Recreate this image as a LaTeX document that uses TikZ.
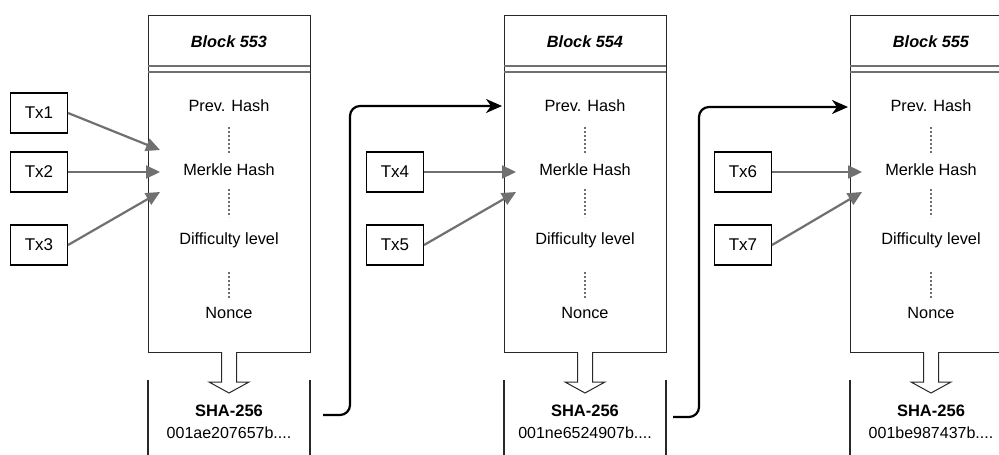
\documentclass[tikz,border=0pt]{standalone}
\usepackage{fontspec}
\setmainfont{Liberation Sans}
\usetikzlibrary{arrows.meta}
\definecolor{agray}{RGB}{112,112,112}
\definecolor{bline}{RGB}{40,40,40}
\definecolor{dgray}{RGB}{110,110,110}
\begin{document}
\begin{tikzpicture}[x=1pt,y=-1pt,
  blockbox/.style={draw=bline, line width=1.2pt, fill=white, minimum width=162pt, minimum height=337pt, inner sep=0pt, anchor=north west},
  txbox/.style={draw=black, line width=1.1pt, minimum width=57pt, minimum height=40pt, inner sep=0pt, font=\fontsize{17}{19}\selectfont},
  field/.style={font=\fontsize{16.3}{18}\selectfont, inner sep=0pt},
  titletext/.style={font=\fontsize{16.3}{18}\selectfont\bfseries\itshape, inner sep=0pt},
  shatext/.style={font=\fontsize{16.5}{18}\selectfont\bfseries, inner sep=0pt},
  hashtext/.style={font=\fontsize{16}{18}\selectfont, inner sep=0pt},
  txarrow/.style={draw=agray, line width=2.2pt, -{Triangle[length=14pt,width=13pt]}},
  chain/.style={draw=black, line width=2.2pt, rounded corners=10pt, -{Stealth[length=16pt,width=14pt,inset=5pt]}},
  dots/.style={draw=dgray, line width=1.5pt, dash pattern=on 2pt off 2pt},
  dbl/.style={draw=agray, line width=2pt},
  shaside/.style={draw=bline, line width=1.2pt},
  hollow/.style={draw=bline, line width=1pt, fill=white},
]
\useasboundingbox (0,0) rectangle (999,455);
\clip (0,0) rectangle (999,455);
\fill[white] (0,0) rectangle (999,455);

\foreach \i/\x/\n/\h in {1/148/553/001ae207657b, 2/504/554/001ne6524907b, 3/850/555/001be987437b}{
  \pgfmathsetmacro{\cx}{\x+81}
  \pgfmathsetmacro{\rx}{\x+162}
  \node[blockbox] (b\i) at (\x,15) {};
  \node[titletext] (t\i) at (\cx,42) {Block \n};
  \draw[dbl] (\x,66) -- (\rx,66);
  \draw[dbl] (\x,72) -- (\rx,72);
  \node[field] (p\i) at (\cx,106) {Prev. Hash};
  \node[field] (m\i) at (\cx,170) {Merkle Hash};
  \node[field] (d\i) at (\cx,240) {Difficulty level};
  \node[field] (n\i) at (\cx,313) {Nonce};
  \draw[dots] (\cx,127) -- (\cx,153);
  \draw[dots] (\cx,189) -- (\cx,217);
  \draw[dots] (\cx,272) -- (\cx,298);
  \draw[hollow] (\cx-7.5,352) -- (\cx-7.5,382) -- (\cx-20,382) -- (\cx,393) -- (\cx+20,382) -- (\cx+7.5,382) -- (\cx+7.5,352);
  \draw[shaside] (\x,380) -- (\x,460);
  \draw[shaside] (\rx,380) -- (\rx,460);
  \node[shatext] (s\i) at (\cx,411) {SHA-256};
  \node[hashtext] (h\i) at (\cx,433) {\h....};
}

% transactions
\node[txbox] (tx1) at (39,113) {Tx1};
\node[txbox] (tx2) at (39,172) {Tx2};
\node[txbox] (tx3) at (39,245) {Tx3};
\node[txbox] (tx4) at (395,172) {Tx4};
\node[txbox] (tx5) at (395,245) {Tx5};
\node[txbox] (tx6) at (743,172) {Tx6};
\node[txbox] (tx7) at (743,245) {Tx7};

\coordinate (a1) at (160,150);
\coordinate (a2) at (160,172);
\coordinate (a3) at (160,192);
\coordinate (a4) at (516,172);
\coordinate (a5) at (516,192);
\coordinate (a6) at (862,172);
\coordinate (a7) at (862,192);

\draw[txarrow] (tx1.east) -- (a1);
\draw[txarrow] (tx2.east) -- (a2);
\draw[txarrow] (tx3.east) -- (a3);
\draw[txarrow] (tx4.east) -- (a4);
\draw[txarrow] (tx5.east) -- (a5);
\draw[txarrow] (tx6.east) -- (a6);
\draw[txarrow] (tx7.east) -- (a7);

% chain links
\coordinate (c1) at (323,415);
\coordinate (k1) at (350,106);
\coordinate (e2) at (502,106);
\coordinate (c2) at (673,417);
\coordinate (k2) at (699,107);
\coordinate (e3) at (848,107);
\draw[chain] (c1) -| (k1) -- (e2);
\draw[chain] (c2) -| (k2) -- (e3);
\end{tikzpicture}
\end{document}
